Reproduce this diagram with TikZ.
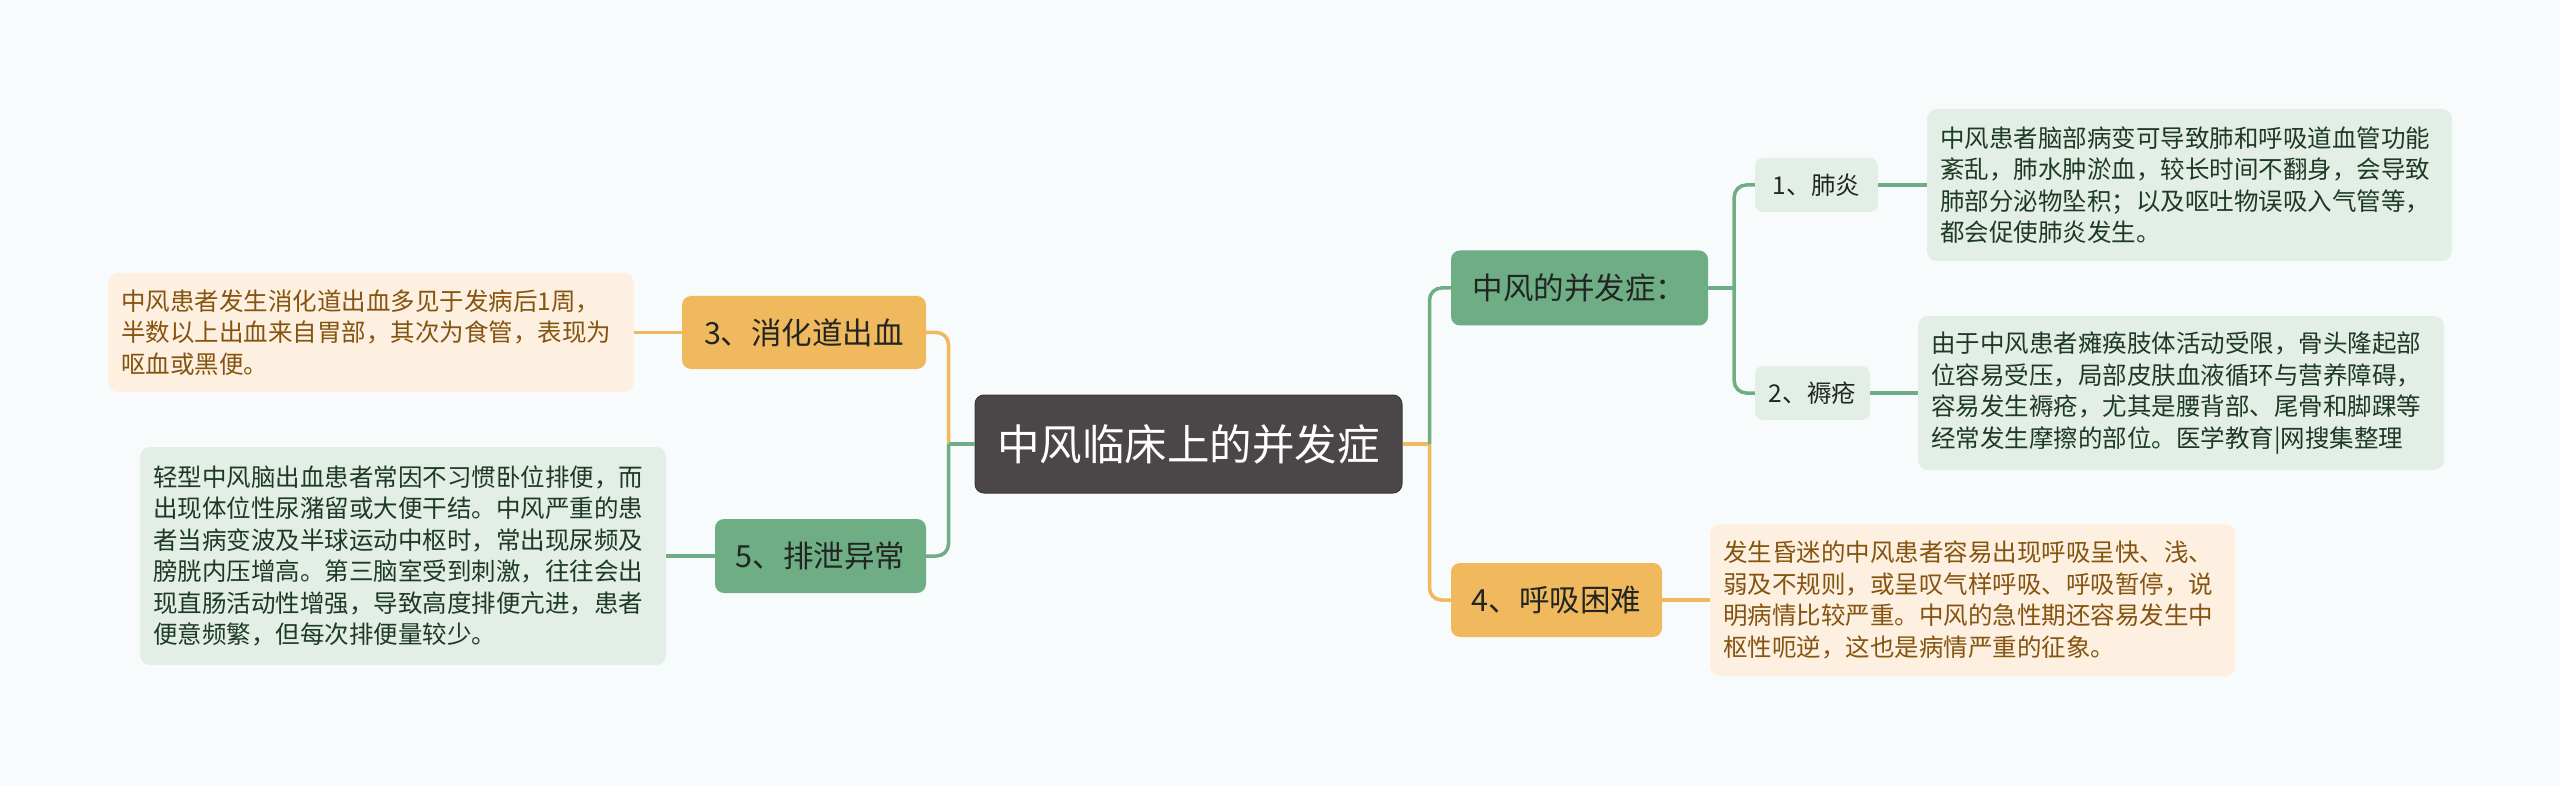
\documentclass[tikz,border=0pt]{standalone}
\usepackage{fontspec}
\setmainfont{Noto Sans CJK SC}
\usetikzlibrary{calc}
\definecolor{bgc}{HTML}{F7FBFC}
\definecolor{rootc}{HTML}{4B4647}
\definecolor{greenc}{HTML}{6FAE85}
\definecolor{orangec}{HTML}{F0B95E}
\definecolor{lgreen}{HTML}{E3EFE6}
\definecolor{lorange}{HTML}{FDF0E0}
\definecolor{gtext}{HTML}{1E3A25}
\definecolor{otext}{HTML}{855410}
\definecolor{dtext}{HTML}{222623}
\tikzset{
  rootbox/.style={fill=rootc, draw=rootc!80!black, line width=1pt, rounded corners=9pt, text=white, inner sep=0pt, font=\fontsize{42.5}{48}\selectfont},
  gbox/.style={fill=greenc, rounded corners=9pt, text=dtext, inner sep=0pt, font=\fontsize{30.5}{36}\selectfont},
  obox/.style={fill=orangec, rounded corners=9pt, text=dtext, inner sep=0pt, font=\fontsize{30.5}{36}\selectfont},
  lbox/.style={fill=lgreen, rounded corners=8pt, text=dtext, inner sep=0pt, font=\fontsize{24.5}{30}\selectfont},
  gdesc/.style={fill=lgreen, rounded corners=10pt, text=gtext, inner xsep=13pt, inner ysep=0pt, align=left, font=\fontsize{24.5}{31.5}\selectfont},
  odesc/.style={fill=lorange, rounded corners=10pt, text=otext, inner xsep=13pt, inner ysep=0pt, align=left, font=\fontsize{24.5}{31.5}\selectfont},
  gline/.style={draw=greenc, line width=3.5pt},
  oline/.style={draw=orangec, line width=3.5pt},
}
\begin{document}
\begin{tikzpicture}[x=1pt,y=-1pt]
\fill[bgc] (0,0) rectangle (2560,786);
\useasboundingbox (0,0) rectangle (2560,786);

% nodes
\node[rootbox, minimum width=427pt, minimum height=98pt] (root) at (1188.5,444) {中风临床上的并发症};
\node[obox, minimum width=244pt, minimum height=73pt] (n3) at (804,332.5) {3、消化道出血};
\node[gbox, minimum width=211pt, minimum height=74pt] (n5) at (820.5,556) {5、排泄异常};
\node[gbox, minimum width=257pt, minimum height=75pt] (nz) at (1579.5,288) {中风的并发症：};
\node[obox, minimum width=211pt, minimum height=74pt] (n4) at (1556.5,600) {4、呼吸困难};
\node[lbox, minimum width=123pt, minimum height=54pt] (n1) at (1816.5,185) {1、肺炎};
\node[lbox, minimum width=115pt, minimum height=54pt] (n2) at (1812.5,393) {2、褥疮};

\node[odesc, text width=500pt, minimum height=119pt] (d3) at (371,332.5) {中风患者发生消化道出血多见于发病后1周，\\半数以上出血来自胃部，其次为食管，表现为\\呕血或黑便。};
\node[gdesc, text width=500pt, minimum height=218pt] (d5) at (403,556) {轻型中风脑出血患者常因不习惯卧位排便，而\\出现体位性尿潴留或大便干结。中风严重的患\\者当病变波及半球运动中枢时，常出现尿频及\\膀胱内压增高。第三脑室受到刺激，往往会出\\现直肠活动性增强，导致高度排便亢进，患者\\便意频繁，但每次排便量较少。};
\node[gdesc, text width=499pt, minimum height=152pt] (d1) at (2189.5,185) {中风患者脑部病变可导致肺和呼吸道血管功能\\紊乱，肺水肿淤血，较长时间不翻身，会导致\\肺部分泌物坠积；以及呕吐物误吸入气管等，\\都会促使肺炎发生。};
\node[gdesc, text width=500pt, minimum height=154pt] (d2) at (2181,393) {由于中风患者瘫痪肢体活动受限，骨头隆起部\\位容易受压，局部皮肤血液循环与营养障碍，\\容易发生褥疮，尤其是腰背部、尾骨和脚踝等\\经常发生摩擦的部位。医学教育|网搜集整理};
\node[odesc, text width=499pt, minimum height=152pt] (d4) at (1972.5,600) {发生昏迷的中风患者容易出现呼吸呈快、浅、\\弱及不规则，或呈叹气样呼吸、呼吸暂停，说\\明病情比较严重。中风的急性期还容易发生中\\枢性呃逆，这也是病情严重的征象。};

% junctions
\coordinate (jr) at ($(root.east)+(27,0)$);
\coordinate (jl) at ($(root.west)+(-26,0)$);
\coordinate (jz) at ($(nz.east)+(26,0)$);

% connectors
\draw[oline] (root.east) -- (jr);
\draw[oline, rounded corners=12pt] (jr) |- (n4.west);
\draw[gline, rounded corners=12pt] (jr) |- (nz.west);
\draw[oline, rounded corners=12pt] (jl) |- (n3.east);
\draw[gline, rounded corners=12pt] (jl) |- (n5.east);
\draw[gline] (root.west) -- (jl);
\draw[gline] (nz.east) -- (jz);
\draw[gline, rounded corners=12pt] (jz) |- (n1.west);
\draw[gline, rounded corners=12pt] (jz) |- (n2.west);
\draw[gline] (n1.east) -- (d1.west);
\draw[gline] (n2.east) -- (d2.west);
\draw[oline] (n4.east) -- (d4.west);
\draw[oline] (n3.west) -- (d3.east);
\draw[gline] (n5.west) -- (d5.east);
\end{tikzpicture}
\end{document}
